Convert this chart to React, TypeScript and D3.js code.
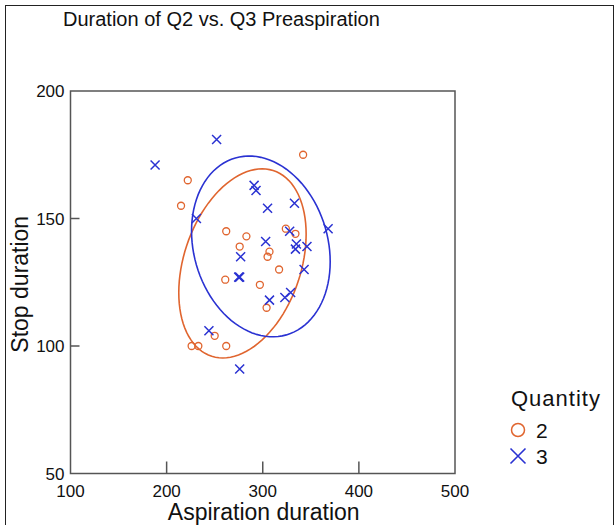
import * as d3 from "d3";

// values
const q2Aspiration = [222, 215, 342, 262, 283, 276, 324, 334, 307, 305, 261, 297, 317, 304, 250, 226, 233, 262];
const q2Stop = [165, 155, 175, 145, 143, 139, 146, 144, 137, 135, 126, 124, 130, 115, 104, 100, 100, 100];
const q3Aspiration = [188, 252, 231, 291, 293, 305, 333, 368, 328, 303, 335, 346, 334, 277, 275, 276, 343, 307, 323, 329, 244, 276];
const q3Stop = [171, 181, 150, 163, 161, 154, 156, 146, 145, 141, 140, 139, 138, 135, 127, 127, 130, 118, 119, 121, 106, 91];
const xTicks = [100, 200, 300, 400, 500];
const yTicks = [50, 100, 150, 200];
const ellipseLevel = 0.75;

const orange = "#e0652f";
const blue = "#2a32d2";
const axisColor = "#555";
const font = "'Liberation Sans', Arial, sans-serif";

const left = 70.5;
const right = 455;
const top = 91;
const bottom = 473.5;

// covariance ellipse, same math as a normal data ellipse
function ellipse(xs: number[], ys: number[], level: number) {
  const n = xs.length;
  const mx = d3.mean(xs) as number;
  const my = d3.mean(ys) as number;
  let sxx = 0, syy = 0, sxy = 0;
  for (let i = 0; i < n; i++) {
    const dx = xs[i] - mx;
    const dy = ys[i] - my;
    sxx += dx * dx;
    syy += dy * dy;
    sxy += dx * dy;
  }
  sxx /= n - 1;
  syy /= n - 1;
  sxy /= n - 1;
  const a = Math.sqrt(sxx);
  const b = sxy / a;
  const c = Math.sqrt(syy - b * b);
  const k = Math.sqrt(-2 * Math.log(1 - level));
  return d3.range(0, 101).map((i) => {
    const t = (i / 100) * 2 * Math.PI;
    return [mx + k * a * Math.cos(t), my + k * (b * Math.cos(t) + c * Math.sin(t))] as [number, number];
  });
}

const Cross = ({ x, y, s, color, w }: { x: number; y: number; s: number; color: string; w: number }) => (
  <path d={`M${x - s},${y - s}L${x + s},${y + s}M${x - s},${y + s}L${x + s},${y - s}`} stroke={color} strokeWidth={w} fill="none" />
);

export default function App() {
  const x = d3.scaleLinear().domain([100, 500]).range([left, right]);
  const y = d3.scaleLinear().domain([50, 200]).range([bottom, top]);
  const line = d3
    .line<[number, number]>()
    .x((d) => x(d[0]))
    .y((d) => y(d[1]));

  return (
    <svg width={616} height={525} style={{ position: "absolute", left: 0, top: 0 }} fontFamily={font}>
      <rect width={616} height={525} fill="#fff" />
      <rect x={5.5} y={5.5} width={608} height={540} fill="none" stroke="#222" strokeWidth={1} />

      <text x={63} y={26} fontSize={20} fill="#111">
        Duration of Q2 vs. Q3 Preaspiration
      </text>

      {/* plot frame */}
      <rect x={left} y={top} width={right - left} height={bottom - top} fill="none" stroke={axisColor} strokeWidth={1.5} />
      {xTicks.slice(1, -1).map((t) => (
        <line key={t} x1={x(t)} x2={x(t)} y1={bottom} y2={bottom - 12} stroke={axisColor} strokeWidth={1.5} />
      ))}
      {yTicks.slice(1, -1).map((t) => (
        <line key={t} x1={left} x2={left + 9} y1={y(t)} y2={y(t)} stroke={axisColor} strokeWidth={1.5} />
      ))}
      {xTicks.map((t) => (
        <text key={t} x={x(t)} y={bottom + 23} fontSize={17} textAnchor="middle" fill="#111">
          {t}
        </text>
      ))}
      {yTicks.map((t) => (
        <text key={t} x={left - 6} y={y(t) + 6} fontSize={17} textAnchor="end" fill="#111">
          {t}
        </text>
      ))}

      <text x={(left + right) / 2 + 1} y={520} fontSize={23} textAnchor="middle" fill="#111">
        Aspiration duration
      </text>
      <text transform={`translate(28,${(top + bottom) / 2 + 2}) rotate(-90)`} fontSize={23} textAnchor="middle" fill="#111">
        Stop duration
      </text>

      {/* ellipses */}
      <path d={line(ellipse(q2Aspiration, q2Stop, ellipseLevel)) ?? ""} fill="none" stroke={orange} strokeWidth={1.6} />
      <path d={line(ellipse(q3Aspiration, q3Stop, ellipseLevel)) ?? ""} fill="none" stroke={blue} strokeWidth={1.6} />

      {/* points */}
      {q2Aspiration.map((v, i) => (
        <circle key={`o${i}`} cx={x(v)} cy={y(q2Stop[i])} r={3.5} fill="none" stroke={orange} strokeWidth={1.3} />
      ))}
      {q3Aspiration.map((v, i) => (
        <Cross key={`x${i}`} x={x(v)} y={y(q3Stop[i])} s={4.5} color={blue} w={1.5} />
      ))}

      {/* legend */}
      <text x={511} y={406} fontSize={22} fill="#111" letterSpacing={1}>
        Quantity
      </text>
      <circle cx={518} cy={430} r={6.5} fill="none" stroke={orange} strokeWidth={1.5} />
      <text x={536} y={438} fontSize={21} fill="#111">
        2
      </text>
      <Cross x={518} y={456} s={7.5} color={blue} w={1.6} />
      <text x={536} y={464} fontSize={21} fill="#111">
        3
      </text>
    </svg>
  );
}
